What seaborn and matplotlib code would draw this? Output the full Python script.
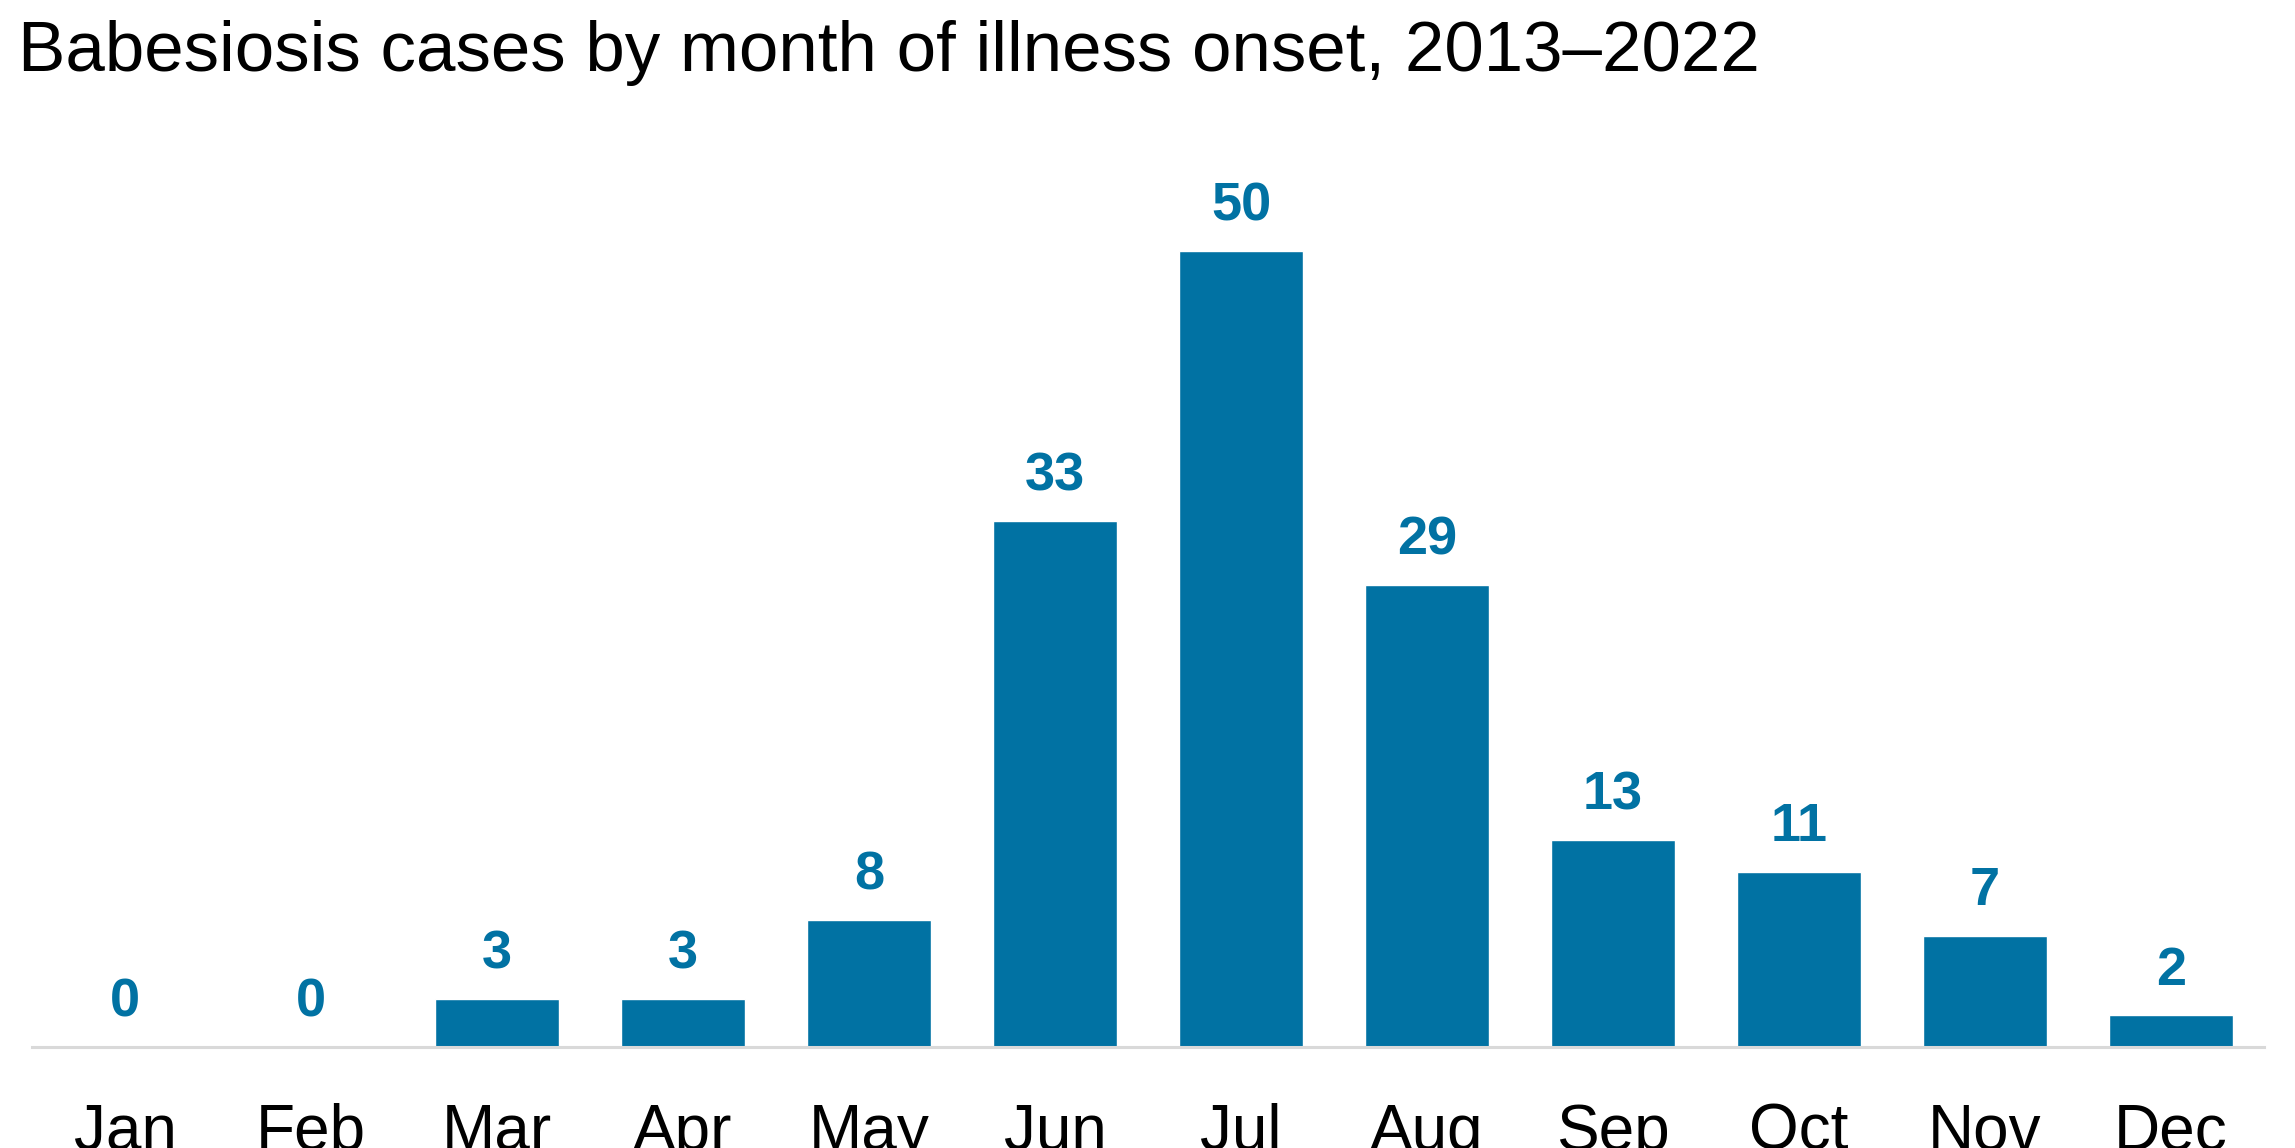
import matplotlib
matplotlib.use("Agg")
import matplotlib.pyplot as plt
import seaborn as sns
import pandas as pd

months = ["Jan", "Feb", "Mar", "Apr", "May", "Jun", "Jul", "Aug", "Sep", "Oct", "Nov", "Dec"]
cases = [0, 0, 3, 3, 8, 33, 50, 29, 13, 11, 7, 2]
title = "Babesiosis cases by month of illness onset, 2013\u20132022"

BAR = "#0172A3"

sns.set_theme(style="white")
plt.rcParams['font.family'] = ['Liberation Sans', 'DejaVu Sans']

W, H = 2295, 1148
fig = plt.figure(figsize=(W / 100, H / 100), dpi=100)
ax = fig.add_axes([32 / W, 101 / H, (2264 - 32) / W, 876 / H])

df = pd.DataFrame({"month": months, "cases": cases})
sns.barplot(data=df, x="month", y="cases", color=BAR, saturation=1, width=0.667, ax=ax)

ax.set_xlim(-0.5, 11.5)
ax.set_ylim(0, 55)
ax.set_xlabel("")
ax.set_ylabel("")
ax.set_yticks([])
for s in ["top", "right", "left"]:
    ax.spines[s].set_visible(False)
ax.spines["bottom"].set_color("#D9D9D9")
ax.spines["bottom"].set_linewidth(2.2)
ax.tick_params(axis="x", length=0, pad=40, labelsize=46, labelcolor="black")

for c in ax.containers:
    ax.bar_label(c, labels=[str(v) for v in cases], padding=14, fontsize=39,
                 fontweight="bold", color=BAR)

fig.text(18 / W, 1 - 20 / H, title, ha="left", va="top", fontsize=51, color="black")

fig.savefig("out.png", dpi=100, facecolor="white")
